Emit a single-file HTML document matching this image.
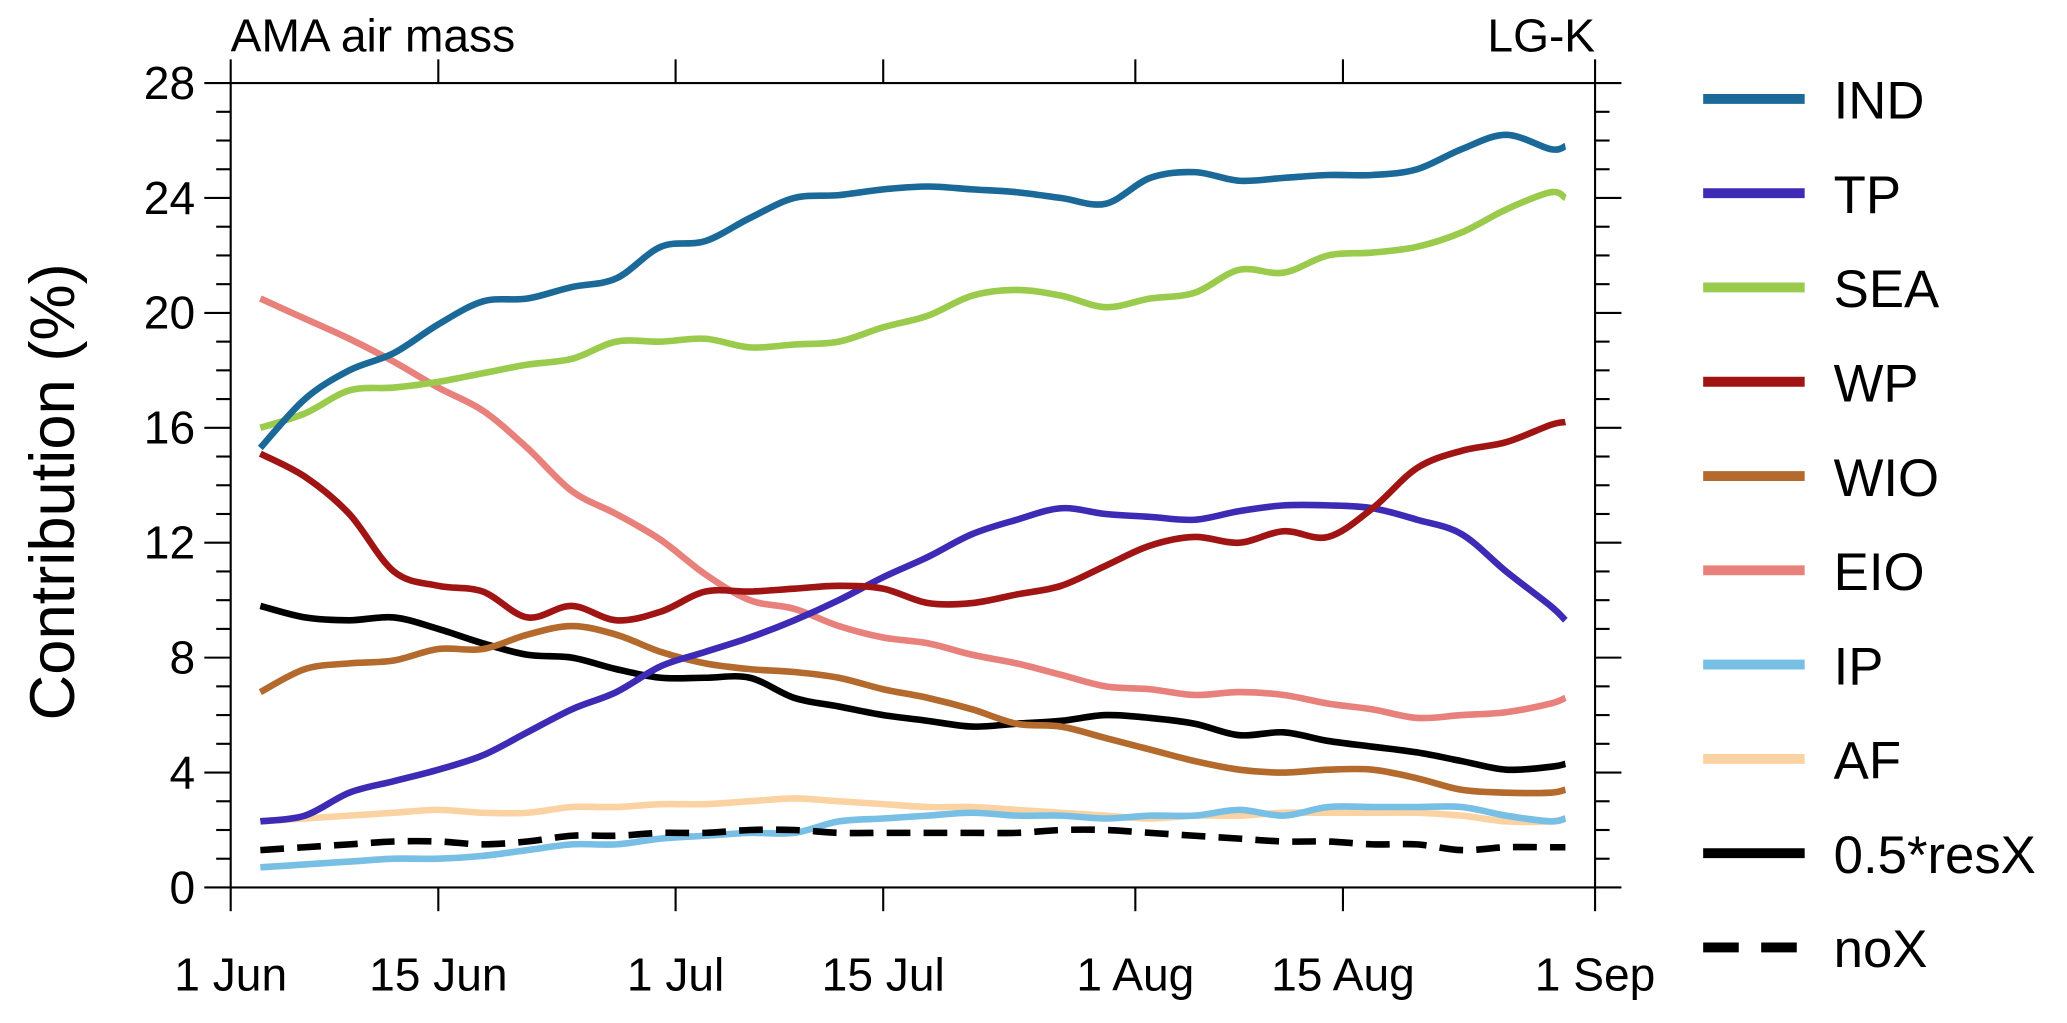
<!DOCTYPE html>
<html><head><meta charset="utf-8"><style>
body{margin:0;background:#fff;}
svg text{font-family:"Liberation Sans",sans-serif;fill:#000;}
</style></head><body>
<svg id="chart" width="2067" height="1018" viewBox="0 0 1568 772" preserveAspectRatio="none">
<g id="axes"></g><g id="series"></g><g id="legend"></g>
</svg>
<script>
const days=[2,5,8,11,14,17,20,23,26,29,32,35,38,41,44,47,50,53,56,59,62,65,68,71,74,77,80,83,86,89,90];
const IND=[15.3,17.0,18.0,18.6,19.6,20.4,20.5,20.9,21.2,22.3,22.5,23.3,24.0,24.1,24.3,24.4,24.3,24.2,24.0,23.8,24.7,24.9,24.6,24.7,24.8,24.8,25.0,25.7,26.2,25.7,25.8];
const TP=[2.3,2.5,3.3,3.7,4.1,4.6,5.4,6.2,6.8,7.7,8.2,8.7,9.3,10.0,10.8,11.5,12.3,12.8,13.2,13.0,12.9,12.8,13.1,13.3,13.3,13.2,12.8,12.3,11.0,9.8,9.3];
const SEA=[16.0,16.5,17.3,17.4,17.6,17.9,18.2,18.4,19.0,19.0,19.1,18.8,18.9,19.0,19.5,19.9,20.6,20.8,20.6,20.2,20.5,20.7,21.5,21.4,22.0,22.1,22.3,22.8,23.6,24.2,24.0];
const WP=[15.1,14.3,13.0,11.0,10.5,10.3,9.4,9.8,9.3,9.6,10.3,10.3,10.4,10.5,10.4,9.9,9.9,10.2,10.5,11.2,11.9,12.2,12.0,12.4,12.2,13.2,14.6,15.2,15.5,16.1,16.2];
const WIO=[6.8,7.6,7.8,7.9,8.3,8.3,8.8,9.1,8.8,8.2,7.8,7.6,7.5,7.3,6.9,6.6,6.2,5.7,5.6,5.2,4.8,4.4,4.1,4.0,4.1,4.1,3.8,3.4,3.3,3.3,3.4];
const EIO=[20.5,19.8,19.1,18.3,17.4,16.6,15.3,13.8,13.0,12.1,10.9,10.0,9.7,9.1,8.7,8.5,8.1,7.8,7.4,7.0,6.9,6.7,6.8,6.7,6.4,6.2,5.9,6.0,6.1,6.4,6.6];
const IP=[0.7,0.8,0.9,1.0,1.0,1.1,1.3,1.5,1.5,1.7,1.8,1.9,1.9,2.3,2.4,2.5,2.6,2.5,2.5,2.4,2.5,2.5,2.7,2.5,2.8,2.8,2.8,2.8,2.5,2.3,2.4];
const AF=[2.3,2.4,2.5,2.6,2.7,2.6,2.6,2.8,2.8,2.9,2.9,3.0,3.1,3.0,2.9,2.8,2.8,2.7,2.6,2.5,2.4,2.5,2.5,2.6,2.6,2.6,2.6,2.5,2.3,2.3,2.4];
const RESX=[9.8,9.4,9.3,9.4,9.0,8.5,8.1,8.0,7.6,7.3,7.3,7.3,6.6,6.3,6.0,5.8,5.6,5.7,5.8,6.0,5.9,5.7,5.3,5.4,5.1,4.9,4.7,4.4,4.1,4.2,4.3];
const NOX=[1.3,1.4,1.5,1.6,1.6,1.5,1.6,1.8,1.8,1.9,1.9,2.0,2.0,1.9,1.9,1.9,1.9,1.9,2.0,2.0,1.9,1.8,1.7,1.6,1.6,1.5,1.5,1.3,1.4,1.4,1.4];
const seriesNames=["IND","TP","SEA","WP","WIO","EIO","IP","AF","0.5*resX","noX"];
const yTicks=[0,4,8,12,16,20,24,28];
const xTickDays=[0,14,30,44,61,75,92];
const xTickLabels=["1 Jun","15 Jun","1 Jul","15 Jul","1 Aug","15 Aug","1 Sep"];

const NS="http://www.w3.org/2000/svg";
const L=175,R=1210,T=63,B=673;
const xs=d=>L+(R-L)*d/92;
const ys=v=>B-(B-T)*v/28;
function mk(tag,attrs,parent){const e=document.createElementNS(NS,tag);for(const k in attrs)e.setAttribute(k,attrs[k]);parent.appendChild(e);return e;}
const ax=document.getElementById('axes');
const frame=mk('rect',{x:L,y:T,width:R-L,height:B-T,fill:'none',stroke:'#000','stroke-width':1.6},ax);


for(let v=0;v<=28;v+=1){
  const len=(v%4===0)?20:11;
  const y=ys(v);
  mk('line',{x1:L-len,y1:y,x2:L,y2:y,stroke:'#000','stroke-width':1.6},ax);
  mk('line',{x1:R,y1:y,x2:R+len,y2:y,stroke:'#000','stroke-width':1.6},ax);
}
yTicks.forEach(v=>{
  const t=mk('text',{x:L-27,y:ys(v)+12,'font-size':35,'text-anchor':'end'},ax);
  t.textContent=v;
  
  
});
xTickDays.forEach((d,i)=>{
  const x=xs(d);
  mk('line',{x1:x,y1:B,x2:x,y2:B+18,stroke:'#000','stroke-width':1.6},ax);
  mk('line',{x1:x,y1:T-18,x2:x,y2:T,stroke:'#000','stroke-width':1.6},ax);
  const t=mk('text',{x:x,y:751,'font-size':35,'text-anchor':'middle'},ax);
  t.textContent=xTickLabels[i];
  
  
});
const yl=mk('text',{x:0,y:0,'font-size':48,'text-anchor':'middle',transform:'translate(56,373) rotate(-90)'},ax);
yl.textContent='Contribution (%)';


const t1=mk('text',{x:L,y:39,'font-size':35},ax);t1.textContent='AMA air mass';


const t2=mk('text',{x:R,y:39,'font-size':35,'text-anchor':'end'},ax);t2.textContent='LG-K';



function path(vals){
  const p=days.map((d,i)=>[xs(d),ys(vals[i])]);
  let s='M'+p[0][0]+','+p[0][1];
  for(let i=0;i<p.length-1;i++){
    const p0=p[i-1]||p[i],p1=p[i],p2=p[i+1],p3=p[i+2]||p2;
    const c1=[p1[0]+(p2[0]-p0[0])/6,p1[1]+(p2[1]-p0[1])/6];
    const c2=[p2[0]-(p3[0]-p1[0])/6,p2[1]-(p3[1]-p1[1])/6];
    s+=` C${c1[0]},${c1[1]} ${c2[0]},${c2[1]} ${p2[0]},${p2[1]}`;
  }
  return s;
}
const data=[IND,TP,SEA,WP,WIO,EIO,IP,AF,RESX,NOX];
const colors=["#1a6999","#3e2bb5","#9acb4c","#a01414","#b36a2c","#e8807c","#78bfe6","#fbd3a2","#000","#000"];
const drawOrder=[7,6,9,8,4,5,1,3,2,0];
const sg=document.getElementById('series');
drawOrder.forEach(i=>{
  const e=mk('path',{d:path(data[i]),fill:'none',stroke:colors[i],'stroke-width':5,'stroke-linejoin':'round'},sg);
  if(i===9)e.setAttribute('stroke-dasharray','18,10');
  
  
});
const lg=document.getElementById('legend');
seriesNames.forEach((n,i)=>{
  const y=75+i*71.5;
  const g=mk('g',{},lg);
  
  
  const ln=mk('line',{x1:1292,y1:y,x2:1369,y2:y,stroke:colors[i],'stroke-width':7.5},g);
  if(i===9)ln.setAttribute('stroke-dasharray','27,17');
  const t=mk('text',{x:1391,y:y+15,'font-size':40},g);t.textContent=n;
});
</script>
</body></html>
